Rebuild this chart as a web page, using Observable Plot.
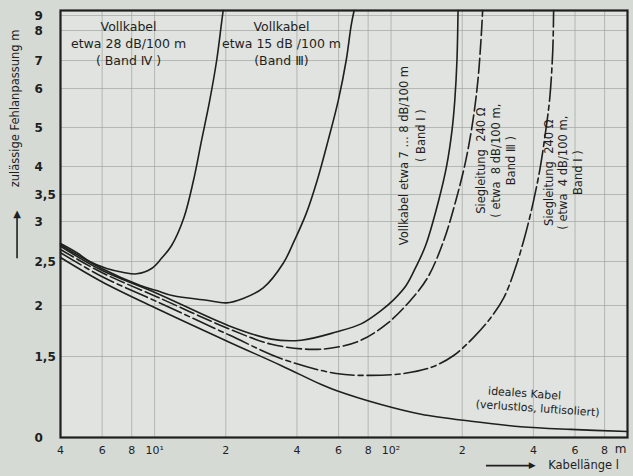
<!DOCTYPE html>
<html><head><meta charset="utf-8">
<script src="https://cdn.jsdelivr.net/npm/d3@7"></script>
<script src="https://cdn.jsdelivr.net/npm/@observablehq/plot@0.6"></script>
<style>
html,body{margin:0;padding:0;background:#d6dad5;}
#chart{width:633px;height:476px;overflow:hidden;}
svg{display:block;}
</style></head><body><div id="chart"></div>
<script>
// ---- tick values & labels ----
const xTicks = [4, 6, 8, 10, 20, 40, 60, 80, 100, 200, 400, 600, 800];
const xTickLabels = ["4", "6", "8", "10¹", "2", "4", "6", "8", "10²", "2", "4", "6", "8"];
const xGrid = [6, 8, 10, 20, 40, 60, 80, 100, 200, 400, 600, 800];
const yTicks = [0, 1.5, 2, 2.5, 3, 3.5, 4, 5, 6, 7, 8, 9];
const yTickLabels = ["0", "1,5", "2", "2,5", "3", "3,5", "4", "5", "6", "7", "8", "9"];
const yGrid = [1.5, 2, 2.5, 3, 3.5, 4, 5, 6, 7, 8, 9];

// ---- series: cable length l (m) and allowed mismatch m ----
const lenBand4 = [4, 4.69, 5.32, 6.27, 7.40, 8.40, 9.71, 10.7, 11.8, 13.3, 14.6, 15.8, 17.1, 18.3, 19.2, 19.5];
const mBand4   = [2.725, 2.61, 2.50, 2.42, 2.375, 2.36, 2.42, 2.54, 2.70, 3.07, 3.75, 4.67, 5.69, 7.0, 8.53, 9.3];

const lenBand3 = [4, 5.98, 8.65, 10.2, 12.0, 16.6, 20.1, 23.7, 28.8, 35.0, 39.0, 43.8, 48.7, 54.2, 59.8, 64.6, 67.8, 69.8];
const mBand3   = [2.71, 2.42, 2.23, 2.17, 2.11, 2.06, 2.03, 2.08, 2.20, 2.48, 2.76, 3.15, 3.75, 4.67, 5.69, 7.0, 8.33, 9.3];

const lenBand1 = [4, 5.98, 10.2, 20.7, 31.2, 41.7, 58.6, 74.7, 90.7, 103, 116, 127, 140, 159, 172, 181, 186, 190, 192];
const mBand1   = [2.69, 2.40, 2.14, 1.80, 1.67, 1.66, 1.74, 1.82, 1.95, 2.07, 2.23, 2.43, 2.70, 3.39, 4.03, 4.92, 5.69, 7.0, 9.3];

const lenSteg8 = [4, 5.98, 10.2, 20.7, 31.2, 46.0, 58.6, 74.7, 97.1, 121, 143, 167, 188, 207, 222, 233, 240, 244];
const mSteg8   = [2.65, 2.375, 2.10, 1.77, 1.62, 1.57, 1.59, 1.66, 1.83, 2.06, 2.32, 2.76, 3.39, 4.15, 5.18, 6.29, 7.67, 9.3];

const lenSteg4 = [4, 5.98, 10.2, 20.7, 34.4, 58.6, 82.3, 113, 148, 184, 224, 264, 300, 333, 367, 401, 429, 451, 469, 483, 487];
const mSteg4   = [2.61, 2.33, 2.045, 1.71, 1.46, 1.185, 1.15, 1.185, 1.30, 1.51, 1.69, 1.88, 2.09, 2.40, 2.80, 3.39, 4.03, 4.92, 5.75, 7.33, 9.3];

const lenIdeal = [4, 5.98, 10.2, 20.7, 34.4, 50.7, 58.6, 90.7, 134, 218, 354, 575, 1000];
const mIdeal   = [2.55, 2.27, 1.97, 1.64, 1.33, 0.98, 0.87, 0.61, 0.43, 0.30, 0.20, 0.15, 0.11];

const zip = (ls, ms) => ls.map((l, i) => ({l, m: ms[i]}));

const ink = "#1e1f1e";
const font = "DejaVu Sans";

const lineOpts = {x: "l", y: "m", stroke: ink, strokeWidth: 1.6, curve: "catmull-rom"};

const chart = Plot.plot({
  width: 633, height: 476,
  marginLeft: 60, marginRight: 6, marginTop: 10, marginBottom: 39,
  x: {type: "log", domain: [4, 1000], range: [60, 627], axis: null},
  y: {type: "linear",
      domain: [0, 1.5, 2, 2.5, 3, 3.5, 4, 5, 6, 7, 8, 9, 9.3],
      range:  [437, 356, 305, 261, 221, 194, 166, 127, 88, 60, 30, 15, 10],
      axis: null},
  style: {background: "transparent", fontFamily: font, color: ink, overflow: "visible"},
  marks: [
    Plot.frame({fill: "#e0e3df", stroke: null}),
    Plot.ruleX(xGrid, {stroke: "#9ea39d", strokeWidth: 0.9, strokeOpacity: 0.75}),
    Plot.ruleY(yGrid, {stroke: "#9ea39d", strokeWidth: 0.9, strokeOpacity: 0.75}),
    Plot.frame({stroke: ink, strokeWidth: 2.2}),

    // curves
    Plot.line(zip(lenBand4, mBand4), lineOpts),
    Plot.line(zip(lenBand3, mBand3), lineOpts),
    Plot.line(zip(lenBand1, mBand1), lineOpts),
    Plot.line(zip(lenSteg8, mSteg8), {...lineOpts, strokeDasharray: "15,4"}),
    Plot.line(zip(lenSteg4, mSteg4), {...lineOpts, strokeDasharray: "24,4,5,4"}),
    Plot.line(zip(lenIdeal, mIdeal), lineOpts),

    // tick labels
    Plot.text(xTicks.map((v, i) => ({v, t: xTickLabels[i]})),
      {x: "v", text: "t", frameAnchor: "bottom", dy: 16, fontSize: 11, fill: ink}),
    Plot.text([{v: 935, t: "m"}],
      {x: "v", text: "t", frameAnchor: "bottom", dy: 15, fontSize: 12, fill: ink}),
    Plot.text(yTicks.map((v, i) => ({v, t: yTickLabels[i]})),
      {y: "v", text: "t", frameAnchor: "left", dx: -26, dy: 1, textAnchor: "start", fontSize: 12, fontWeight: "bold", fill: ink}),

    // axis titles
    Plot.text([{m: 5.49, t: "zulässige Fehlanpassung m"}],
      {y: "m", text: "t", frameAnchor: "left", dx: -45, rotate: -90, textAnchor: "middle", fontSize: 11.5, fill: ink}),
    Plot.link([{x1: 2.62, x2: 2.62, y1: 2.54, y2: 3.12}],
      {x1: "x1", x2: "x2", y1: "y1", y2: "y2", stroke: ink, strokeWidth: 1.6}),
    Plot.text([{l: 2.62, m: 3.1}], {x: "l", y: "m", text: () => "▲", fontSize: 10, fill: ink, dy: -2}),
    Plot.text([{l: 652, t: "Kabellänge l"}],
      {x: "l", text: "t", frameAnchor: "bottom", dy: 31, fontSize: 11.5, fill: ink}),
    Plot.link([{x1: 252, x2: 390}],
      {x1: "x1", x2: "x2", y1: () => -0.52, y2: () => -0.52, stroke: ink, strokeWidth: 1.6}),
    Plot.text([{l: 395}], {x: "l", y: () => -0.52, text: () => "▶", fontSize: 9, fill: ink}),

    // annotations
    Plot.text([{l: 7.76, m: 7.6, t: "Vollkabel\netwa 28 dB/100 m\n( Band Ⅳ )"}],
      {x: "l", y: "m", text: "t", fontSize: 12.5, lineHeight: 1.35, fill: ink}),
    Plot.text([{l: 34.4, m: 7.6, t: "Vollkabel\netwa 15 dB /100 m\n(Band Ⅲ)"}],
      {x: "l", y: "m", text: "t", fontSize: 12.5, lineHeight: 1.35, fill: ink}),
    Plot.text([{l: 113.6, m: 4.28, t: "Vollkabel etwa 7 ... 8 dB/100 m"}],
      {x: "l", y: "m", text: "t", rotate: -90, fontSize: 11.5, fill: ink}),
    Plot.text([{l: 134, m: 4.79, t: "( Band I )"}],
      {x: "l", y: "m", text: "t", rotate: -90, fontSize: 11.5, fill: ink}),
    Plot.text([{l: 275, m: 4.15, t: "Siegleitung  240 Ω\n( etwa  8 dB/100 m,\nBand Ⅲ )"}],
      {x: "l", y: "m", text: "t", rotate: -90, fontSize: 11.5, lineHeight: 1.3, fill: ink}),
    Plot.text([{l: 532, m: 3.89, t: "Siegleitung  240 Ω\n( etwa  4 dB/100 m,\nBand I )"}],
      {x: "l", y: "m", text: "t", rotate: -90, fontSize: 11.5, lineHeight: 1.3, fill: ink}),
    Plot.text([{l: 367, m: 0.815, t: "ideales Kabel"}],
      {x: "l", y: "m", text: "t", rotate: 4, fontSize: 11, fill: ink}),
    Plot.text([{l: 417, m: 0.537, t: "(verlustlos, luftisoliert)"}],
      {x: "l", y: "m", text: "t", rotate: 4, fontSize: 11, fill: ink})
  ]
});
document.getElementById("chart").appendChild(chart);
</script></body></html>
